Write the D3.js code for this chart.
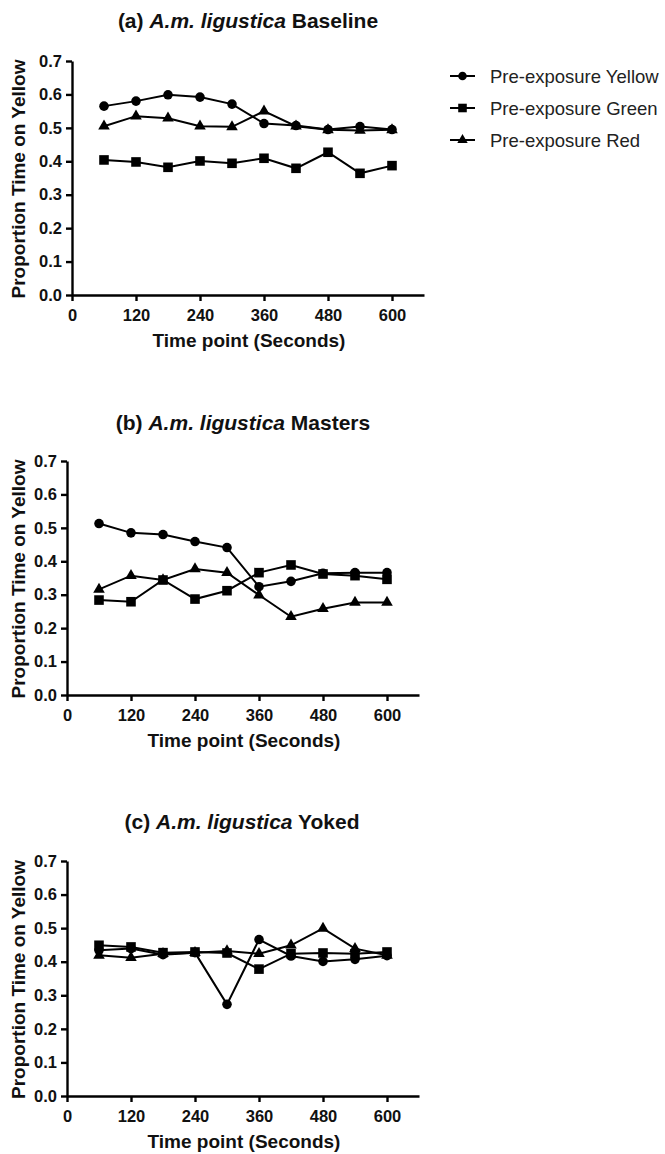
<!DOCTYPE html>
<html>
<head>
<meta charset="utf-8">
<script src="https://cdn.jsdelivr.net/npm/d3@7"></script>
<style>
  body { margin: 0; background: #fff; }
  svg { font-family: "Liberation Sans", Arial, sans-serif; }
  .axis path, .axis line { stroke: #000; stroke-width: 2.4px; }
</style>
</head>
<body>
<div id="chart"></div>
<script>
// time points (seconds)
var times = [60, 120, 180, 240, 300, 360, 420, 480, 540, 600];
var xTicks = [0, 120, 240, 360, 480, 600];
var yTicks = [0, 0.1, 0.2, 0.3, 0.4, 0.5, 0.6, 0.7];
var seriesNames = ["Pre-exposure Yellow", "Pre-exposure Green", "Pre-exposure Red"];

// (a) Baseline
var baseYellow = [0.565, 0.580, 0.599, 0.592, 0.571, 0.513, 0.507, 0.495, 0.504, 0.495];
var baseGreen  = [0.404, 0.398, 0.382, 0.401, 0.394, 0.409, 0.379, 0.427, 0.364, 0.387];
var baseRed    = [0.505, 0.535, 0.529, 0.505, 0.503, 0.550, 0.505, 0.494, 0.492, 0.494];

// (b) Masters
var mastYellow = [0.513, 0.485, 0.480, 0.459, 0.441, 0.324, 0.340, 0.364, 0.366, 0.366];
var mastGreen  = [0.284, 0.279, 0.344, 0.287, 0.312, 0.366, 0.389, 0.362, 0.357, 0.346];
var mastRed    = [0.316, 0.357, 0.344, 0.377, 0.366, 0.299, 0.234, 0.258, 0.277, 0.277];

// (c) Yoked
var yokeYellow = [0.434, 0.439, 0.421, 0.427, 0.273, 0.466, 0.417, 0.401, 0.407, 0.418];
var yokeGreen  = [0.449, 0.444, 0.427, 0.429, 0.426, 0.378, 0.424, 0.426, 0.424, 0.429];
var yokeRed    = [0.419, 0.412, 0.424, 0.427, 0.432, 0.424, 0.449, 0.499, 0.439, 0.419];

var symbols = [d3.symbolCircle, d3.symbolSquare, d3.symbolTriangle],
	symSizes = [72, 92, 58];

var svg = d3.select("#chart").append("svg")
	.attr("width", 665)
	.attr("height", 1154);

var panels = [
	{label: "(a) ", name: " Baseline", series: [baseYellow, baseGreen, baseRed],
	 left: 72, right: 424, top: 61, bottom: 295, titleX: 248, titleY: 28},
	{label: "(b) ", name: " Masters", series: [mastYellow, mastGreen, mastRed],
	 left: 67, right: 419, top: 461, bottom: 695, titleX: 243, titleY: 430},
	{label: "(c) ", name: " Yoked", series: [yokeYellow, yokeGreen, yokeRed],
	 left: 67, right: 419, top: 861, bottom: 1096, titleX: 242, titleY: 829}
];

panels.forEach(function(p) {
	var x = d3.scaleLinear().domain([0, 660]).range([p.left, p.right]),
		y = d3.scaleLinear().domain([0, 0.7]).range([p.bottom, p.top]);

	var g = svg.append("g");

	// title
	var t = g.append("text")
		.attr("x", p.titleX)
		.attr("y", p.titleY)
		.attr("text-anchor", "middle")
		.style("font-size", "21px")
		.style("font-weight", "bold")
		.style("fill", "#111");
	t.append("tspan").text(p.label);
	t.append("tspan").style("font-style", "italic").text("A.m. ligustica");
	t.append("tspan").text(p.name);

	g.append("g")
		.attr("class", "axis")
		.attr("transform", "translate(0," + p.bottom + ")")
		.call(d3.axisBottom(x).tickValues(xTicks).tickSize(6).tickSizeOuter(0).tickPadding(8))
		.call(function(a) {
			a.selectAll("text").style("font-size", "16.5px").style("font-weight", "bold").style("fill", "#111");
		});

	g.append("g")
		.attr("class", "axis")
		.attr("transform", "translate(" + p.left + ",0)")
		.call(d3.axisLeft(y).tickValues(yTicks).tickFormat(d3.format(".1f")).tickSize(6).tickSizeOuter(0).tickPadding(4))
		.call(function(a) {
			a.selectAll("text").style("font-size", "16.5px").style("font-weight", "bold").style("fill", "#111");
		});

	// axis titles
	g.append("text")
		.attr("x", (p.left + p.right) / 2 + 1)
		.attr("y", p.bottom + 52)
		.attr("text-anchor", "middle")
		.style("font-size", "19px")
		.style("font-weight", "bold")
		.style("fill", "#111")
		.text("Time point (Seconds)");

	g.append("text")
		.attr("transform", "translate(25," + ((p.top + p.bottom) / 2 + 1) + ") rotate(-90)")
		.attr("text-anchor", "middle")
		.style("font-size", "19px")
		.style("font-weight", "bold")
		.style("fill", "#111")
		.text("Proportion Time on Yellow");

	var line = d3.line()
		.x(function(d, i) { return x(times[i]); })
		.y(function(d) { return y(d); });

	p.series.forEach(function(vals, k) {
		g.append("path")
			.datum(vals)
			.attr("fill", "none")
			.attr("stroke", "#000")
			.attr("stroke-width", 2)
			.attr("d", line);

		g.selectAll(".m" + k)
			.data(vals)
			.enter().append("path")
				.attr("class", "m" + k)
				.attr("transform", function(d, i) { return "translate(" + x(times[i]) + "," + y(d) + ")"; })
				.attr("d", d3.symbol().type(symbols[k]).size(symSizes[k]))
				.style("fill", "#000");
	});
});

// legend
var legend = svg.append("g");
seriesNames.forEach(function(name, k) {
	var ly = 76 + k * 32;
	legend.append("line")
		.attr("x1", 450).attr("x2", 475)
		.attr("y1", ly).attr("y2", ly)
		.attr("stroke", "#000")
		.attr("stroke-width", 2);
	legend.append("path")
		.attr("transform", "translate(462.5," + ly + ")")
		.attr("d", d3.symbol().type(symbols[k]).size(symSizes[k] * 0.8))
		.style("fill", "#000");
	legend.append("text")
		.attr("x", 490)
		.attr("y", ly + 6.5)
		.style("font-size", "18.5px")
		.style("fill", "#222")
		.text(name);
});
</script>
</body>
</html>
